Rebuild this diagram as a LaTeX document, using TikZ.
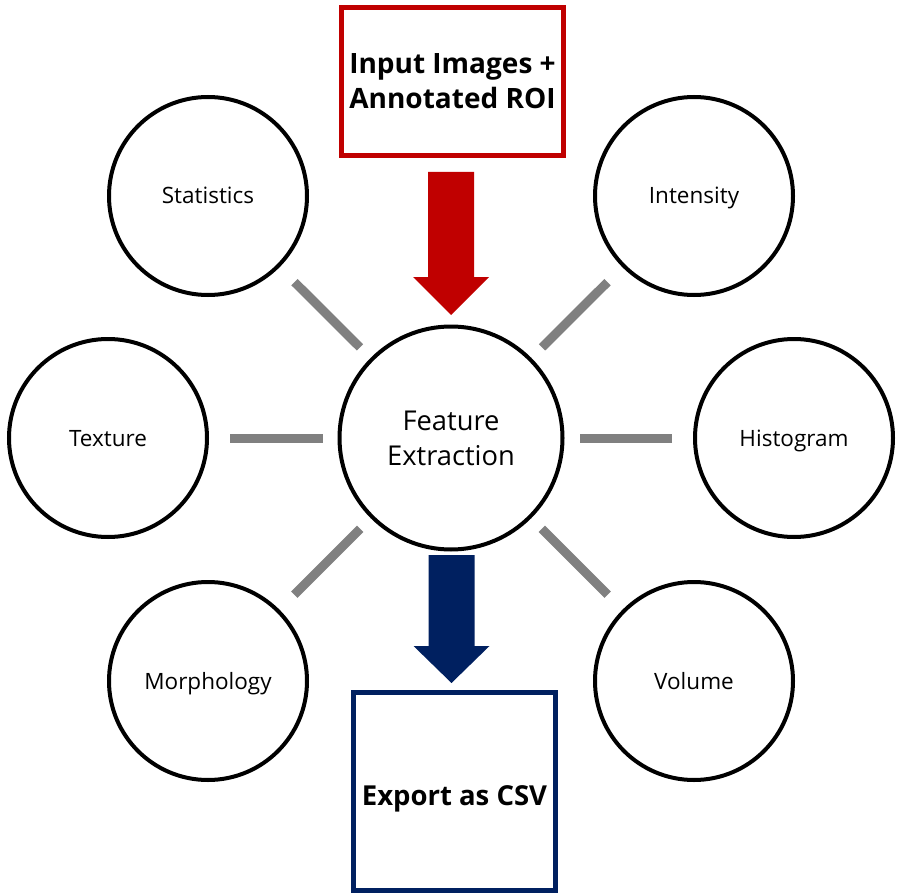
\documentclass[tikz,border=0pt]{standalone}
\usepackage{fontspec}
\setmainfont{Open Sans}
\definecolor{roired}{HTML}{C00000}
\definecolor{navyblue}{HTML}{002060}
\definecolor{linkgray}{HTML}{808080}
% downward block arrow: colour, centre x, top y, head start y, tip y
\newcommand\downblock[5]{%
  \fill[#1] (#2-23,#3) -- (#2+23,#3) -- (#2+23,#4) -- (#2+38,#4) -- (#2,#5)
    -- (#2-38,#4) -- (#2-23,#4) -- cycle;}
\begin{document}
\begin{tikzpicture}[x=1pt,y=-1pt,
  feature/.style={circle,draw=black,line width=4pt,minimum size=198pt,inner sep=0pt,
    text height=16pt,text depth=0pt,font=\fontsize{22.5}{27}\selectfont},
  hub/.style={circle,draw=black,line width=4pt,minimum size=223pt,inner sep=0pt,
    align=center,font=\fontsize{27.3}{35}\selectfont},
  link/.style={draw=linkgray,line width=9pt,shorten <=21pt,shorten >=15pt},
  iobox/.style={draw,line width=5pt,inner sep=0pt,align=center,
    font=\bfseries\fontsize{28}{35}\selectfont}]
\useasboundingbox (0,0) rectangle (897,896);

% central hub and the six feature groups
\node[hub] (fe) at (451,438) {Feature\\Extraction};
\node[feature] (stat)  at (208,196) {Statistics};
\node[feature] (inten) at (694,196) {Intensity};
\node[feature] (tex)   at (108,438) {Texture};
\node[feature] (hist)  at (794,438) {Histogram};
\node[feature] (morph) at (208,681) {Morphology};
\node[feature] (vol)   at (694,681) {Volume};

% spokes
\draw[link] (stat)  -- (fe);
\draw[link] (inten) -- (fe);
\draw[link] (tex)   -- (fe);
\draw[link] (hist)  -- (fe);
\draw[link] (morph) -- (fe);
\draw[link] (vol)   -- (fe);

% input and output
\node[iobox,draw=roired,minimum width=222pt,minimum height=148pt] (input)
  at (452.5,81.5) {Input Images +\\Annotated ROI};
\node[iobox,draw=navyblue,minimum width=201.5pt,minimum height=197.5pt,
  text height=27pt,text depth=0pt,font=\bfseries\fontsize{27.5}{33}\selectfont] (export)
  at (454.5,791.5) {Export as CSV};

% flow arrows
\downblock{roired}{451}{172}{277}{315}
\downblock{navyblue}{451.5}{555}{646}{683}
\end{tikzpicture}
\end{document}
